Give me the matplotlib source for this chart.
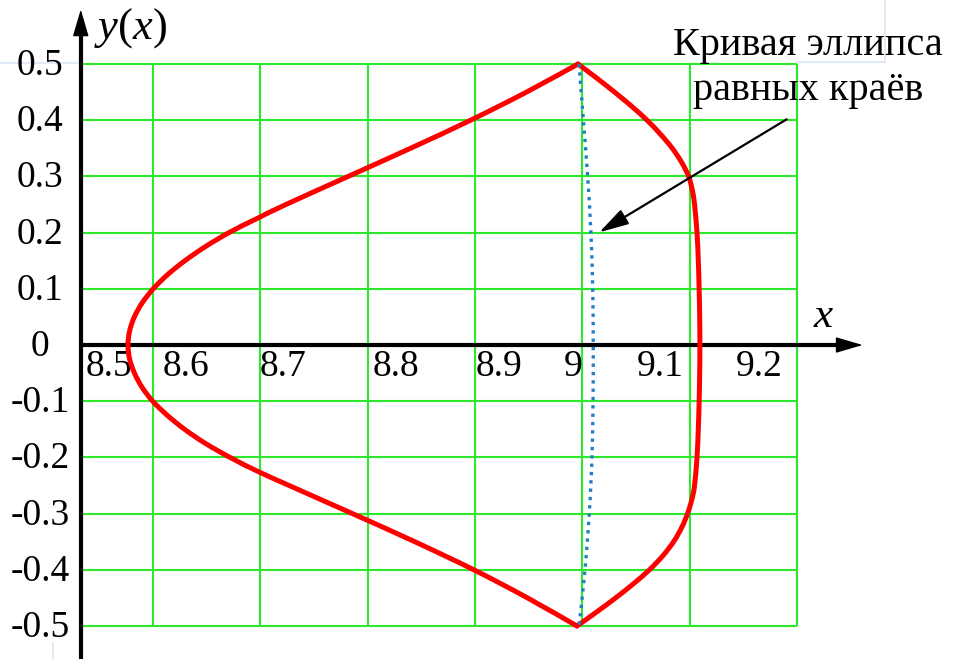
import matplotlib
matplotlib.use("Agg")
import matplotlib.pyplot as plt
from matplotlib.lines import Line2D
from matplotlib.path import Path
from matplotlib.patches import PathPatch

# ---- grid and tick values ----
x_grid = [8.6, 8.7, 8.8, 8.9, 9.0, 9.1, 9.2]
y_grid = [0.5, 0.4, 0.3, 0.2, 0.1, -0.1, -0.2, -0.3, -0.4, -0.5]
x_left = 8.533
x_right = 9.2
x_tick_values = [8.533, 8.6, 8.7, 8.8, 8.9, 9.0, 9.1, 9.2]
x_tick_labels = ["8.5", "8.6", "8.7", "8.8", "8.9", "9", "9.1", "9.2"]
y_tick_values = [0.5, 0.4, 0.3, 0.2, 0.1, 0.0, -0.1, -0.2, -0.3, -0.4, -0.5]
y_tick_labels = ["0.5", "0.4", "0.3", "0.2", "0.1", "0",
                 "-0.1", "-0.2", "-0.3", "-0.4", "-0.5"]

# ---- contour y(x), left branch: top vertex -> bottom vertex ----
left_x = [8.996, 8.948, 8.896, 8.840, 8.782, 8.724, 8.697, 8.671, 8.649,
          8.630, 8.6137, 8.6005, 8.5902, 8.5829, 8.5785, 8.577,
          8.5785, 8.583, 8.590, 8.600, 8.6135, 8.6297, 8.649, 8.672, 8.698,
          8.727, 8.786, 8.844, 8.899, 8.949, 8.995]
left_y = [0.5, 0.45, 0.4, 0.35, 0.3, 0.25, 0.225, 0.2, 0.175,
          0.15, 0.125, 0.1, 0.075, 0.05, 0.025, 0.0,
          -0.025, -0.05, -0.075, -0.1, -0.125, -0.15, -0.175, -0.2, -0.225,
          -0.25, -0.3, -0.35, -0.4, -0.45, -0.5]

# ---- contour y(x), right branch: bottom vertex -> top vertex ----
right_x = [8.995, 9.0134, 9.031, 9.0475, 9.0625, 9.075, 9.085, 9.0925,
           9.098, 9.102, 9.1045, 9.1068, 9.108, 9.1088, 9.1093, 9.1095,
           9.1093, 9.1088, 9.108, 9.1068, 9.1045, 9.1025, 9.099, 9.0925,
           9.0838, 9.0728, 9.0603, 9.0458, 9.030, 9.0134, 8.996]
right_y = [-0.5, -0.475, -0.45, -0.425, -0.4, -0.375, -0.35, -0.325,
           -0.3, -0.275, -0.25, -0.2, -0.15, -0.1, -0.05, 0.0,
           0.05, 0.1, 0.15, 0.2, 0.25, 0.275, 0.3, 0.325,
           0.35, 0.375, 0.4, 0.425, 0.45, 0.475, 0.5]

# ---- equal-edge ellipse curve ----
ellipse_x = [8.997, 9.001, 9.005, 9.008, 9.0097, 9.0102, 9.010, 9.009,
             9.0065, 9.0025, 8.997]
ellipse_y = [0.5, 0.4, 0.3, 0.2, 0.1, 0.0, -0.1, -0.2, -0.3, -0.4, -0.5]

SERIF = ["Liberation Serif", "DejaVu Serif"]
GREEN = "#2ee82e"
plt.rcParams["mathtext.fontset"] = "custom"
plt.rcParams["mathtext.rm"] = "Liberation Serif"
plt.rcParams["mathtext.it"] = "Liberation Serif:italic"


def smooth_path(xs, ys):
    """Catmull-Rom curve through the given points, as a cubic Bezier path."""
    pts = list(zip(xs, ys))
    n = len(pts)
    verts = [pts[0]]
    codes = [Path.MOVETO]
    for i in range(n - 1):
        p0 = pts[max(i - 1, 0)]
        p1 = pts[i]
        p2 = pts[i + 1]
        p3 = pts[min(i + 2, n - 1)]
        c1 = (p1[0] + (p2[0] - p0[0]) / 6, p1[1] + (p2[1] - p0[1]) / 6)
        c2 = (p2[0] - (p3[0] - p1[0]) / 6, p2[1] - (p3[1] - p1[1]) / 6)
        verts += [c1, c2, p2]
        codes += [Path.CURVE4] * 3
    return Path(verts, codes)


fig = plt.figure(figsize=(9.54, 6.59), dpi=100)
ax = fig.add_axes([0, 0, 1, 1])
ax.set_xlim(8.4578, 9.3461)
ax.set_ylim(-0.5587, 0.6139)
ax.axis("off")

# faint frame of the surrounding text boxes
frame_c = "#dde7f3"
fig.add_artist(Line2D([0, 81 / 954], [1 - 63 / 659] * 2, color=frame_c, lw=1.2,
                      transform=fig.transFigure, zorder=0))
fig.add_artist(Line2D([797 / 954, 885 / 954], [1 - 62 / 659] * 2, color=frame_c,
                      lw=1.2, transform=fig.transFigure, zorder=0))
fig.add_artist(Line2D([885 / 954] * 2, [1 - 62 / 659, 1], color=frame_c, lw=1.2,
                      transform=fig.transFigure, zorder=0))
fig.add_artist(Line2D([53 / 954] * 2, [0, 1 - 643 / 659], color=frame_c, lw=1.2,
                      transform=fig.transFigure, zorder=0))

# green grid
ax.vlines(x_grid, -0.5, 0.5, color=GREEN, lw=1.5, zorder=1)
ax.hlines(y_grid, x_left, x_right, color=GREEN, lw=1.5, zorder=1)

# axes with arrowheads
y_top = 0.597
x_tip = 9.261
ax.plot([x_left, x_left], [-0.5587, y_top - 0.03], color="black", lw=3,
        solid_capstyle="butt", zorder=3)
ax.plot([x_left, x_tip - 0.02], [0, 0], color="black", lw=3,
        solid_capstyle="butt", zorder=3)
head = dict(arrowstyle="-|>,head_length=1.7,head_width=0.5", color="black",
            lw=1, shrinkA=0, shrinkB=0, mutation_scale=10)
ax.annotate("", xy=(x_left, y_top), xytext=(x_left, y_top - 0.05),
            arrowprops=head, zorder=3)
ax.annotate("", xy=(x_tip, 0), xytext=(x_tip - 0.05, 0),
            arrowprops=head, zorder=3)

# tick labels
x_offsets = [5, 10, 0, 5, 1, 0, -6, -14]
for val, lab, dx in zip(x_tick_values, x_tick_labels, x_offsets):
    ha = "left" if val < 8.95 else "right"
    ax.annotate(lab, xy=(val, 0), xytext=(dx, -31), textcoords="offset pixels",
                ha=ha, va="baseline", fontsize=27, family=SERIF, zorder=2)
for val, lab in zip(y_tick_values, y_tick_labels):
    ax.annotate(lab, xy=(8.533, val), xytext=(-41, -11),
                textcoords="offset pixels", ha="center", va="baseline",
                fontsize=27, family=SERIF, zorder=2)

# axis names
fig.text(94 / 954, 1 - 39 / 659, r"$y(x)$", fontsize=32,
         ha="left", va="baseline")
fig.text(813 / 954, 1 - 327 / 659, r"$x$", fontsize=31,
         ha="left", va="baseline")

# curves
for xs, ys in ((left_x, left_y), (right_x, right_y)):
    ax.add_patch(PathPatch(smooth_path(xs, ys), fill=False, edgecolor="#ff0000",
                           lw=3.6, joinstyle="round", capstyle="round", zorder=4))
ax.add_patch(PathPatch(smooth_path(ellipse_x, ellipse_y), fill=False,
                       edgecolor="#1f80c8", lw=2.4, linestyle=(0, (1, 1.5)),
                       zorder=5))

# callout
fig.text(808 / 954, 1 - 55 / 659, "Кривая эллипса", fontsize=29, family=SERIF,
         ha="center", va="baseline")
fig.text(808 / 954, 1 - 100 / 659, "равных краёв", fontsize=29, family=SERIF,
         ha="center", va="baseline")
ax.annotate("", xy=(9.0158, 0.2005), xytext=(9.1903, 0.4016),
            arrowprops=dict(arrowstyle="-|>,head_length=1.8,head_width=0.5",
                            color="black", lw=1.6, shrinkA=0, shrinkB=0,
                            mutation_scale=10), zorder=6)

fig.savefig("out.png", dpi=100)
